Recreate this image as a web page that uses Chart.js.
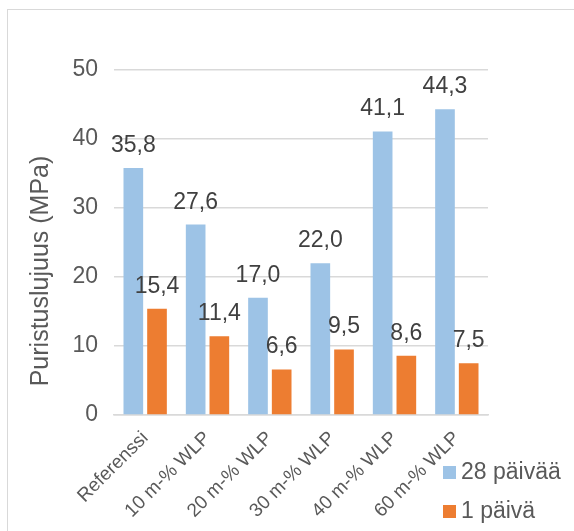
<!DOCTYPE html>
<html>
<head>
<meta charset="utf-8">
<script src="https://cdn.jsdelivr.net/npm/chart.js@4/dist/chart.umd.min.js"></script>
<style>
    html, body { margin: 0; padding: 0; background: #fff; }
    #wrap { position: relative; width: 574px; height: 531px; overflow: hidden; }
    #frame { position: absolute; left: 7px; top: 9px; width: 700px; height: 700px; border: 1px solid #d9d9d9; box-sizing: border-box; }
    #chart { position: absolute; left: 0; top: 0; }
</style>
</head>
<body>
<div id="wrap">
    <div id="frame"></div>
    <canvas id="chart" width="574" height="531"></canvas>
</div>
<script>
// --- Data ---
const categories = ['Referenssi', '10 m-% WLP', '20 m-% WLP', '30 m-% WLP', '40 m-% WLP', '60 m-% WLP'];
const seriesNames = ['28 päivää', '1 päivä'];
const paivaa28 = [35.8, 27.6, 17.0, 22.0, 41.1, 44.3];
const paiva1 = [15.4, 11.4, 6.6, 9.5, 8.6, 7.5];
const yTicks = [0, 10, 20, 30, 40, 50];
const yTitle = 'Puristuslujuus (MPa)';

const FONT = '"Liberation Sans", Arial, sans-serif';
const textGrey = '#595959';

function fmt(v) {
    return v.toFixed(1).replace('.', ',');
}

// --- labels above the bars ---
const valueLabels = {
    id: 'valueLabels',
    afterDatasetsDraw(chart) {
        const ctx = chart.ctx;
        ctx.save();
        ctx.font = '23px ' + FONT;
        ctx.fillStyle = '#404040';
        ctx.textAlign = 'center';
        ctx.textBaseline = 'alphabetic';
        chart.data.datasets.forEach((ds, i) => {
            chart.getDatasetMeta(i).data.forEach((bar, j) => {
                ctx.fillText(fmt(ds.data[j]), bar.x, bar.y - 16);
            });
        });
        ctx.restore();
    }
};

// --- y title and legend (placed like in the Excel chart) ---
const extras = {
    id: 'extras',
    afterDraw(chart) {
        const ctx = chart.ctx;
        ctx.save();
        ctx.fillStyle = textGrey;
        ctx.font = '25px ' + FONT;
        ctx.textAlign = 'center';
        ctx.textBaseline = 'middle';
        ctx.translate(41, 271);
        ctx.rotate(-Math.PI / 2);
        ctx.fillText(yTitle, 0, 0);
        ctx.restore();

        ctx.save();
        ctx.font = '23px ' + FONT;
        ctx.textAlign = 'left';
        ctx.textBaseline = 'middle';
        chart.data.datasets.forEach((ds, i) => {
            const y = 466 + i * 39;
            ctx.fillStyle = ds.backgroundColor;
            ctx.fillRect(443, y, 13, 13);
            ctx.fillStyle = textGrey;
            ctx.fillText(ds.label, 461, y + 7);
        });
        ctx.restore();
    }
};

const ctx = document.getElementById('chart');
new Chart(ctx.getContext('2d'), {
    type: 'bar',
    data: {
        labels: categories,
        datasets: [{
            label: seriesNames[0],
            data: paivaa28,
            backgroundColor: '#9dc3e6',
            categoryPercentage: 0.76,
            barPercentage: 0.83
        }, {
            label: seriesNames[1],
            data: paiva1,
            backgroundColor: '#ed7d31',
            categoryPercentage: 0.76,
            barPercentage: 0.83
        }]
    },
    options: {
        responsive: false,
        animation: false,
        layout: {
            padding: { left: 0, top: 70, right: 86, bottom: 0 }
        },
        plugins: {
            legend: { display: false },
            tooltip: { enabled: false }
        },
        scales: {
            x: {
                grid: { display: false },
                border: { color: '#d9d9d9', width: 1.5 },
                ticks: {
                    color: textGrey,
                    font: { family: FONT, size: 19 },
                    minRotation: 45,
                    maxRotation: 45,
                    padding: 4
                },
                afterFit(scale) { scale.height = 116; }
            },
            y: {
                min: yTicks[0],
                max: yTicks[yTicks.length - 1],
                grid: { color: '#d9d9d9', lineWidth: 1.5, drawTicks: false },
                border: { display: false },
                afterBuildTicks(scale) {
                    scale.ticks = yTicks.map(v => ({ value: v }));
                },
                ticks: {
                    color: textGrey,
                    font: { family: FONT, size: 23 },
                    padding: 16
                },
                afterFit(scale) { scale.width = 114; }
            }
        }
    },
    plugins: [valueLabels, extras]
});
</script>
</body>
</html>
